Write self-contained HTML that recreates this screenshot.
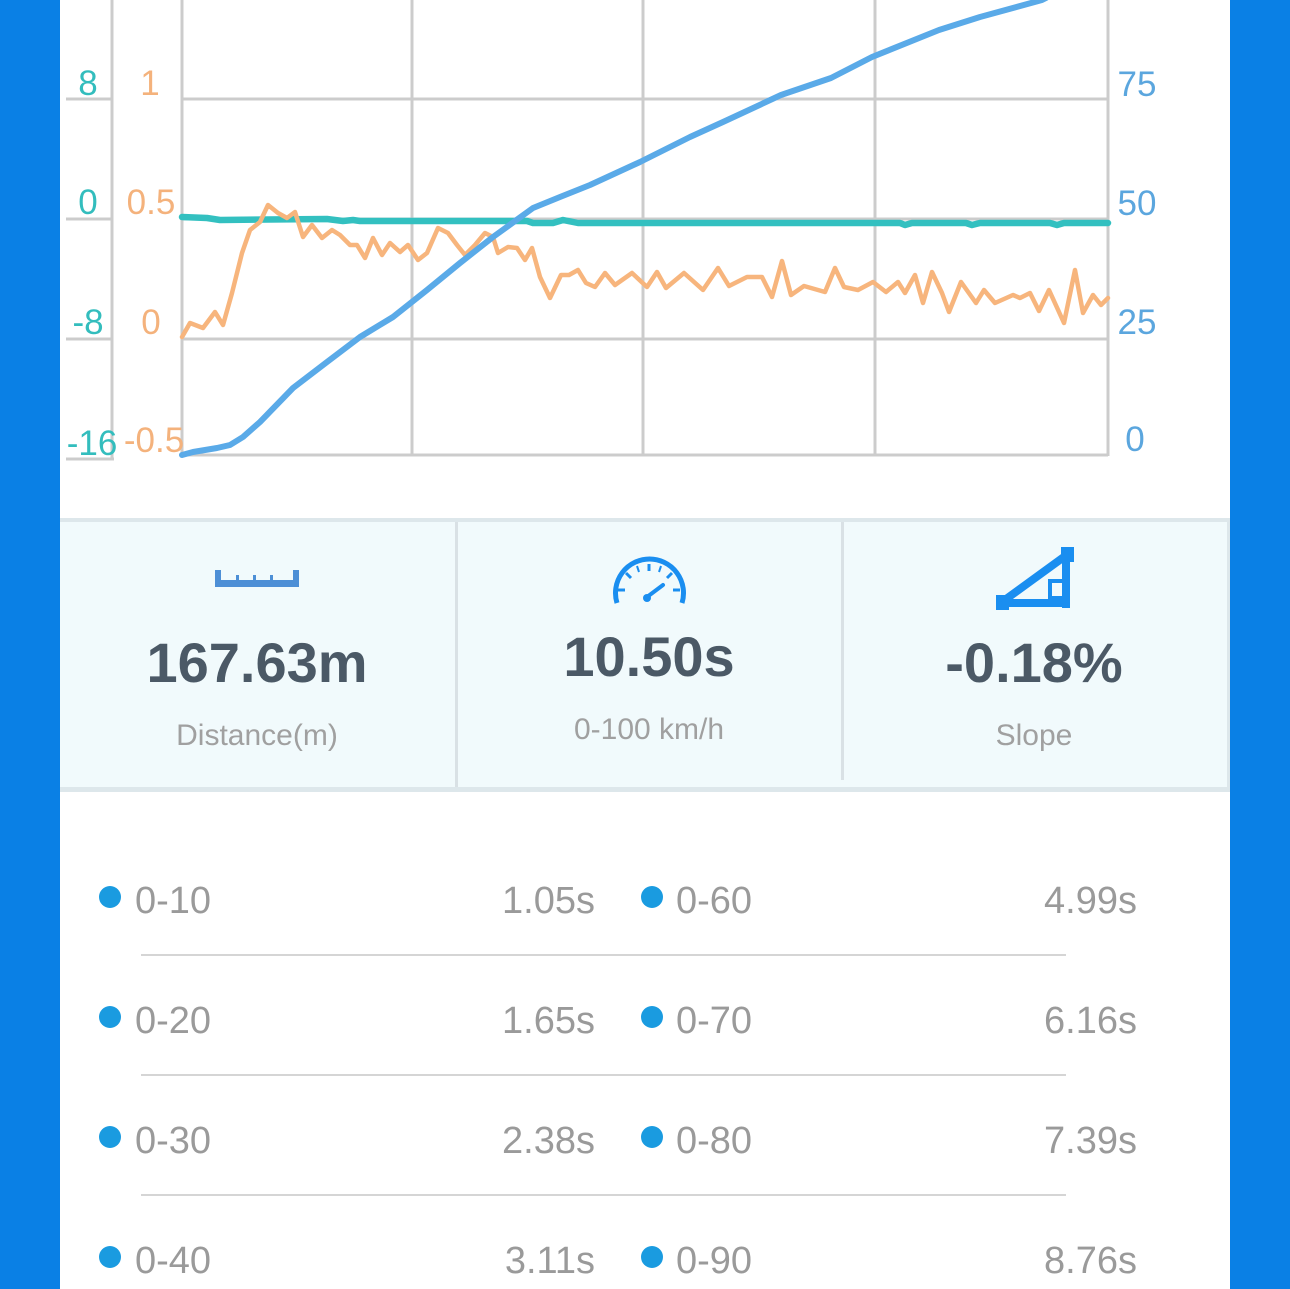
<!DOCTYPE html>
<html><head><meta charset="utf-8"><style>
html,body{margin:0;padding:0;background:#fff;}
body{width:1290px;height:1289px;overflow:hidden;position:relative;}
svg{display:block;}
text{font-family:"Liberation Sans",sans-serif;}
</style></head><body>
<svg width="1290" height="1289" viewBox="0 0 1290 1289" xmlns="http://www.w3.org/2000/svg">
<rect x="0" y="0" width="1290" height="1289" fill="#fff"/>
<rect x="0" y="0" width="60" height="1289" fill="#0a80e5"/>
<rect x="1230" y="0" width="60" height="1289" fill="#0a80e5"/>

<!-- grid -->
<g stroke="#cccccc" stroke-width="3" fill="none">
<line x1="182" y1="0" x2="182" y2="456"/>
<line x1="412" y1="0" x2="412" y2="456"/>
<line x1="643" y1="0" x2="643" y2="456"/>
<line x1="875" y1="0" x2="875" y2="456"/>
<line x1="1108" y1="0" x2="1108" y2="456"/>
<line x1="182" y1="99" x2="1108" y2="99"/>
<line x1="182" y1="219" x2="1108" y2="219"/>
<line x1="182" y1="339" x2="1108" y2="339"/>
<line x1="182" y1="455" x2="1108" y2="455"/>
<line x1="112" y1="0" x2="112" y2="460"/>
<line x1="66" y1="99" x2="112" y2="99"/>
<line x1="66" y1="219" x2="112" y2="219"/>
<line x1="66" y1="339" x2="112" y2="339"/>
<line x1="66" y1="459" x2="114" y2="459"/>
</g>

<!-- axis labels -->
<g font-size="35" fill="#33bdbd" text-anchor="middle">
<text x="88" y="95">8</text>
<text x="88" y="214">0</text>
<text x="88" y="334">-8</text>
<text x="92" y="455">-16</text>
</g>
<g font-size="35" fill="#f4b27c" text-anchor="middle">
<text x="150" y="95">1</text>
<text x="151" y="214">0.5</text>
<text x="151" y="334">0</text>
<text x="154" y="452">-0.5</text>
</g>
<g font-size="35" fill="#5ba6de" text-anchor="middle">
<text x="1137" y="96">75</text>
<text x="1137" y="215">50</text>
<text x="1137" y="334">25</text>
<text x="1135" y="451">0</text>
</g>

<!-- series -->
<polyline fill="none" stroke="#33c0c0" stroke-width="6.5" stroke-linejoin="round" stroke-linecap="round"
points="182,217 207,218 220,220 327,219 343,221 353,220 360,221 527,221 533,223 553,223 563,220 578,223 900,223 905,225 912,223 966,223 972,225 980,223 1050,223 1057,225 1064,223 1108,223"/>
<polyline fill="none" stroke="#f7b57d" stroke-width="4.5" stroke-linejoin="round" stroke-linecap="round"
points="182,337 190,323 203,328 215,312 223,325 232,293 242,253 250,230 260,222 268,205 278,213 287,218 295,212 303,237 312,225 322,238 332,230 340,235 350,245 357,245 365,258 373,238 382,255 390,243 400,252 408,245 418,260 427,253 438,228 448,233 457,245 465,255 475,245 485,233 493,237 498,253 508,247 517,248 525,260 532,248 540,277 550,298 561,275 569,275 578,270 586,283 595,287 605,273 615,285 632,273 647,287 657,272 666,288 684,273 703,290 718,268 729,286 747,277 762,277 772,297 782,261 791,295 804,286 825,292 835,268 844,287 858,290 873,282 886,292 898,282 905,293 915,275 923,303 932,272 942,293 949,312 961,282 976,303 984,290 995,303 1013,295 1020,298 1030,293 1039,311 1049,290 1064,323 1075,270 1083,313 1093,295 1101,305 1108,298"/>
<polyline fill="none" stroke="#5aaae8" stroke-width="6" stroke-linejoin="round" stroke-linecap="round"
points="182,455 193,452 217,448 230,445 243,437 260,422 293,388 327,362 360,337 393,317 427,290 460,263 493,237 533,208 560,197 590,185 640,162 690,137 723,122 781,95 831,78 872,57 939,30 980,17 1042,0 1046,-2"/>

<!-- stats panel -->
<rect x="60" y="522" width="1168" height="265" fill="#f1fafc"/>
<rect x="60" y="518" width="1170" height="4" fill="#dde7eb"/>
<rect x="60" y="787" width="1170" height="5" fill="#dde7eb"/>
<rect x="1227" y="522" width="3" height="265" fill="#dde7eb"/>
<rect x="455" y="522" width="3" height="265" fill="#d9e1e5"/>
<rect x="841" y="522" width="3" height="258" fill="#d9e1e5"/>

<!-- ruler icon -->
<g fill="#4d8fd6">
<rect x="215" y="580" width="84" height="7"/>
<rect x="215" y="570" width="6" height="17"/>
<rect x="293" y="570" width="6" height="17"/>
<rect x="236" y="575" width="3" height="7"/>
<rect x="253" y="575" width="3" height="7"/>
<rect x="270" y="575" width="3" height="7"/>
</g>

<!-- speedometer icon -->
<g stroke="#1a8ef0" fill="none" stroke-linecap="butt">
<path d="M617,603 A34,34 0 1 1 682,603" stroke-width="5"/>
<line x1="649" y1="564" x2="649" y2="571" stroke-width="3"/>
<line x1="626" y1="573" x2="631" y2="578" stroke-width="3"/>
<line x1="672" y1="573" x2="667" y2="578" stroke-width="3"/>
<line x1="618" y1="590" x2="625" y2="590" stroke-width="3"/>
<line x1="680" y1="590" x2="673" y2="590" stroke-width="3"/>
<line x1="637" y1="566" x2="639" y2="572" stroke-width="2"/>
<line x1="661" y1="566" x2="659" y2="572" stroke-width="2"/>
<line x1="647" y1="597" x2="663" y2="585" stroke-width="4" stroke-linecap="round"/>
</g>
<circle cx="647" cy="598" r="4" fill="#1a8ef0"/>

<!-- slope icon -->
<g fill="#1a8ef0">
<rect x="996" y="595" width="13" height="15"/>
<rect x="1061" y="547" width="13" height="15"/>
<rect x="1062" y="552" width="8" height="56"/>
<rect x="1000" y="599" width="70" height="8"/>
</g>
<line x1="1002" y1="602" x2="1068" y2="554" stroke="#1a8ef0" stroke-width="8"/>
<rect x="1050" y="581" width="14" height="17" fill="none" stroke="#1a8ef0" stroke-width="4"/>

<!-- stats text -->
<g font-weight="bold" font-size="56" fill="#4b5966" text-anchor="middle">
<text x="257" y="682">167.63m</text>
<text x="649" y="676">10.50s</text>
<text x="1034" y="682">-0.18%</text>
</g>
<g font-size="30" fill="#a0a0a0" text-anchor="middle">
<text x="257" y="745">Distance(m)</text>
<text x="649" y="739">0-100 km/h</text>
<text x="1034" y="745">Slope</text>
</g>

<!-- list -->
<g stroke="#d5d5d5" stroke-width="2">
<line x1="141" y1="955" x2="1066" y2="955"/>
<line x1="141" y1="1075" x2="1066" y2="1075"/>
<line x1="141" y1="1195" x2="1066" y2="1195"/>
</g>
<g fill="#1a9be0">
<circle cx="110" cy="897" r="11"/>
<circle cx="110" cy="1017" r="11"/>
<circle cx="110" cy="1137" r="11"/>
<circle cx="110" cy="1257" r="11"/>
<circle cx="652" cy="897" r="11"/>
<circle cx="652" cy="1017" r="11"/>
<circle cx="652" cy="1137" r="11"/>
<circle cx="652" cy="1257" r="11"/>
</g>
<g font-size="38" fill="#9a9a9a">
<text x="135" y="913">0-10</text>
<text x="135" y="1033">0-20</text>
<text x="135" y="1153">0-30</text>
<text x="135" y="1273">0-40</text>
<text x="676" y="913">0-60</text>
<text x="676" y="1033">0-70</text>
<text x="676" y="1153">0-80</text>
<text x="676" y="1273">0-90</text>
</g>
<g font-size="38" fill="#9a9a9a" text-anchor="end">
<text x="595" y="913">1.05s</text>
<text x="595" y="1033">1.65s</text>
<text x="595" y="1153">2.38s</text>
<text x="595" y="1273">3.11s</text>
<text x="1137" y="913">4.99s</text>
<text x="1137" y="1033">6.16s</text>
<text x="1137" y="1153">7.39s</text>
<text x="1137" y="1273">8.76s</text>
</g>
</svg>
</body></html>
